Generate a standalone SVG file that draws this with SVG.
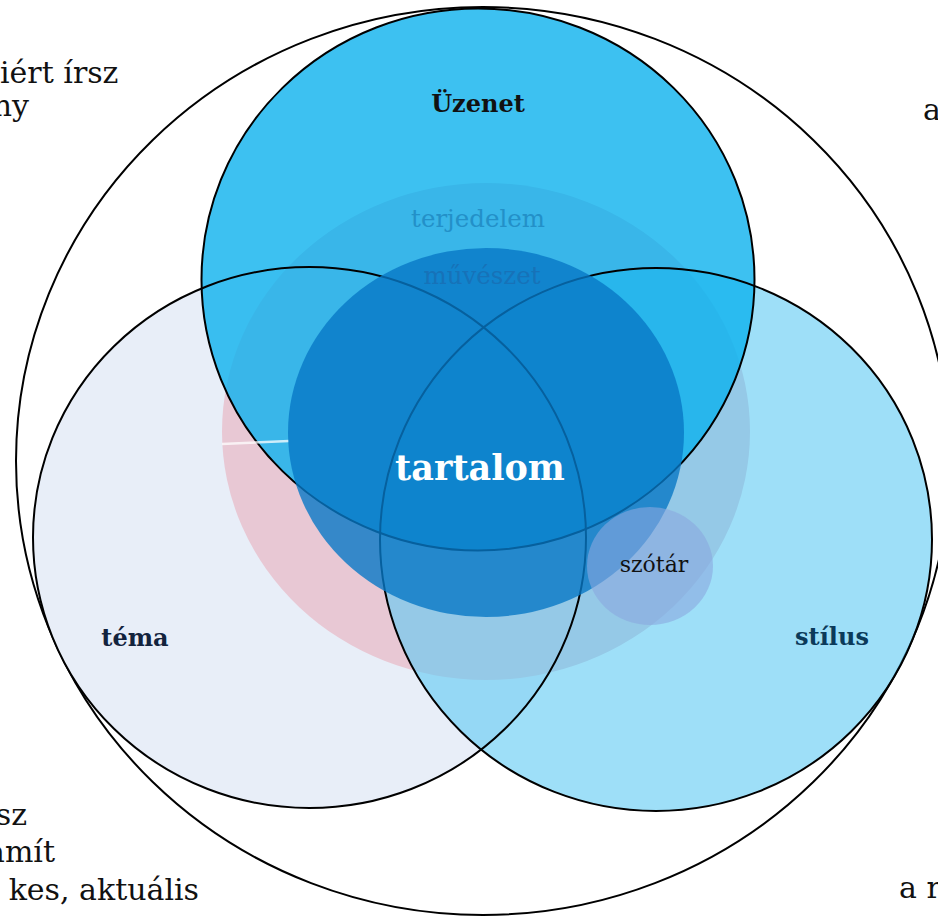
<svg xmlns="http://www.w3.org/2000/svg" width="938" height="916" viewBox="0 0 938 916">
  <style>
    .ring { stroke: #000; stroke-width: 2; }
    .edge { fill: none; stroke: #000; stroke-width: 2; }
    .side { font-family: "DejaVu Serif", "Liberation Serif", serif; font-size: 30px; fill: #111; }
    .label { font-family: "DejaVu Serif", "Liberation Serif", serif; font-weight: bold; font-size: 24px; text-anchor: middle; }
    .inner { font-family: "DejaVu Serif", "Liberation Serif", serif; font-size: 24.5px; text-anchor: middle; }
  </style>

  <rect width="938" height="916" fill="#fff"/>

  <!-- side captions running off the page -->
  <g id="captions">
    <text class="side" x="0" y="83">iért írsz</text>
    <text class="side" x="29" y="116" text-anchor="end">ny</text>
    <text class="side" x="923" y="120">a</text>
    <text class="side" x="27" y="825" text-anchor="end">sz</text>
    <text class="side" x="55" y="862" text-anchor="end">amít</text>
    <text class="side" x="199" y="900" text-anchor="end">kes, aktuális</text>
    <text class="side" x="899" y="898">a r</text>
  </g>

  <!-- enclosing frame -->
  <g id="frame">
    <ellipse cx="483" cy="461" rx="467" ry="454" fill="#fff" class="ring"/>
  </g>

  <!-- three overlapping sets and the middle ring -->
  <g id="tema">
    <ellipse cx="309.5" cy="537.5" rx="276.5" ry="270.5" fill="#E8EEF8"/>
  </g>
  <g id="terjedelem">
    <ellipse cx="486" cy="431.5" rx="264" ry="248.5" fill="#E8C8D4"/>
  </g>
  <g id="stilus">
    <ellipse cx="656" cy="539.5" rx="276" ry="271.5" fill="#5DCAF3" fill-opacity="0.6"/>
  </g>
  <g id="uzenet">
    <ellipse cx="478" cy="279.5" rx="276.5" ry="271" fill="#0CB1ED" fill-opacity="0.8"/>
  </g>

  <!-- set outlines -->
  <g id="outlines">
    <ellipse cx="309.5" cy="537.5" rx="276.5" ry="270.5" class="edge"/>
    <ellipse cx="656" cy="539.5" rx="276" ry="271.5" class="edge"/>
    <ellipse cx="478" cy="279.5" rx="276.5" ry="271" class="edge"/>
  </g>

  <!-- seam of the middle ring -->
  <line x1="222" y1="444" x2="289" y2="441" stroke="#fff" stroke-opacity="0.75" stroke-width="2.5"/>

  <g id="muveszet">
    <ellipse cx="486" cy="432.5" rx="198" ry="184.5" fill="#0778C5" fill-opacity="0.8"/>
  </g>

  <g id="szotar">
    <ellipse cx="650" cy="566" rx="63" ry="59" fill="#8AA8E0" fill-opacity="0.6"/>
    <text x="654" y="572" font-family="DejaVu Serif, Liberation Serif, serif" font-size="22" text-anchor="middle" fill="#111">szótár</text>
  </g>

  <!-- labels -->
  <g id="labels">
    <text class="label" x="478" y="112" fill="#111">Üzenet</text>
    <text class="label" x="135" y="646" fill="#13233D">téma</text>
    <text class="label" x="832" y="645" fill="#0B3A5A">stílus</text>
    <text class="inner" x="478" y="227" fill="#2390C8">terjedelem</text>
    <text class="inner" x="482" y="284" font-size="25" fill="#1772B8">művészet</text>
    <text x="480" y="480" font-family="DejaVu Serif, Liberation Serif, serif" font-weight="bold" font-size="35" text-anchor="middle" fill="#fff">tartalom</text>
  </g>
</svg>
